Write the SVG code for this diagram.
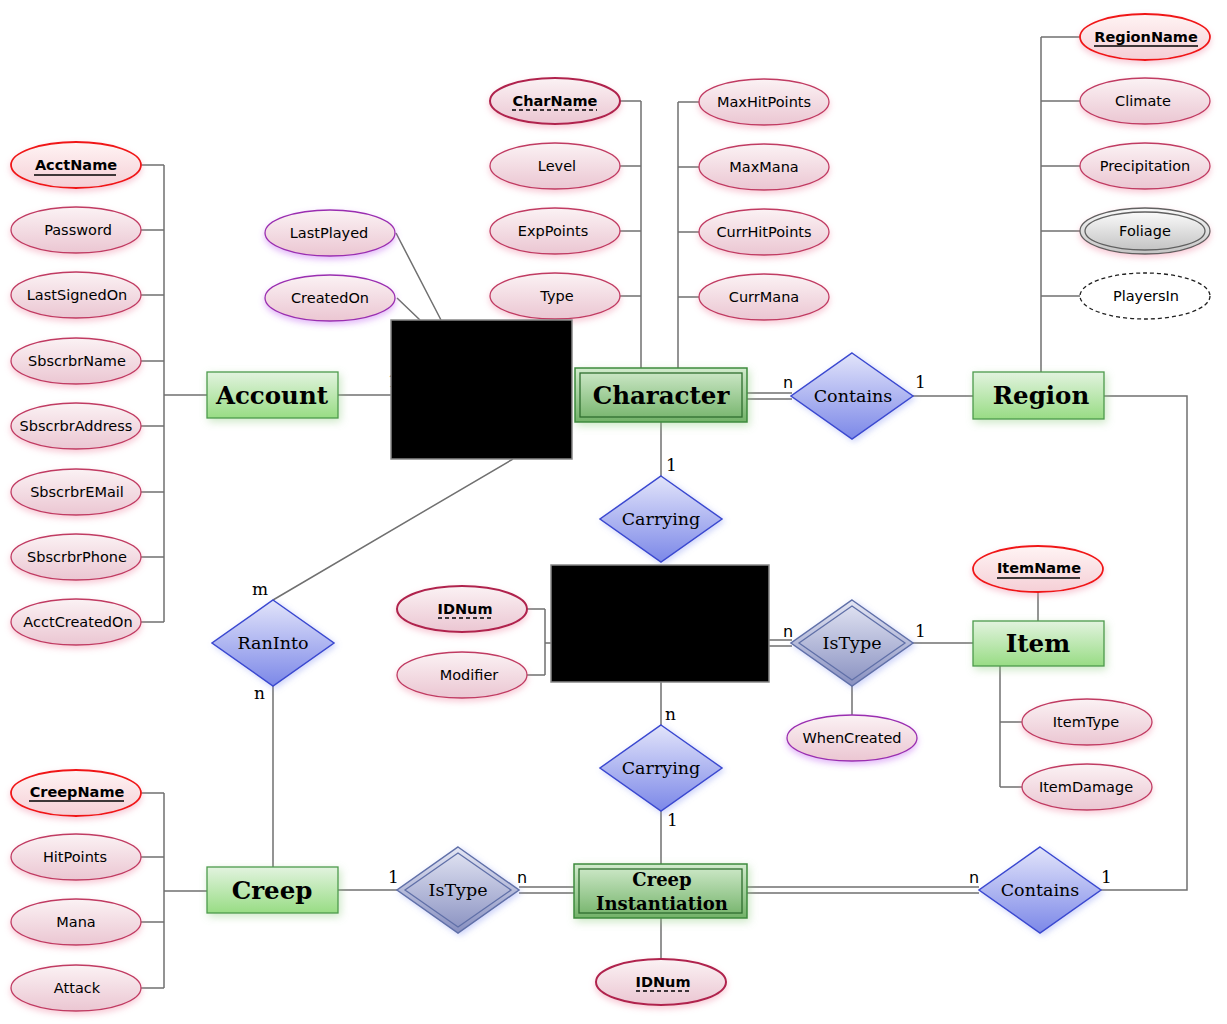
<svg xmlns="http://www.w3.org/2000/svg" width="1227" height="1024" viewBox="0 0 1227 1024">
<style>
.bg{fill:#fff}
.c{stroke:#707070;stroke-width:1.5;fill:none}
.attr{fill:url(#gAttr);stroke:#c03a62;stroke-width:1.3;filter:url(#shPink)}
.key{fill:url(#gKey);stroke:#f01818;stroke-width:1.8;filter:url(#shPink)}
.wkey{fill:url(#gAttr);stroke:#b0244e;stroke-width:2;filter:url(#shPink)}
.der{fill:url(#gAttr);stroke:#9a2eb0;stroke-width:1.3;filter:url(#shPurp)}
.mv{fill:url(#gGray);stroke:#606060;stroke-width:1.3}
.dv{fill:#fff;stroke:#202020;stroke-width:1.3;stroke-dasharray:4 3}
.at{font-family:"DejaVu Sans",sans-serif;font-size:14.5px;fill:#000;text-anchor:middle}
.atb{font-family:"DejaVu Sans",sans-serif;font-size:14.5px;font-weight:bold;fill:#000;text-anchor:middle}
.ent{fill:url(#gEnt);stroke:#4c9a4c;stroke-width:1.3;filter:url(#shGreen)}
.went{fill:url(#gWEnt);stroke:#3c8a3c;stroke-width:1.5;filter:url(#shGreen)}
.wentin{fill:none;stroke:#2e6e2e;stroke-width:1.3}
.et{font-family:"DejaVu Serif",serif;font-size:24.5px;font-weight:bold;fill:#000;text-anchor:middle}
.et2{font-family:"DejaVu Serif",serif;font-size:18px;font-weight:bold;fill:#000;text-anchor:middle}
.rel{fill:url(#gRel);stroke:#3a48d0;stroke-width:1.5;filter:url(#shBlue)}
.wrel{fill:url(#gWRel);stroke:#6070a8;stroke-width:1.5;filter:url(#shBlue)}
.wrelin{fill:none;stroke:#6070a8;stroke-width:1.3}
.rt{font-family:"DejaVu Serif",serif;font-size:17.5px;fill:#000;text-anchor:middle}
.lb{font-family:"DejaVu Sans",sans-serif;font-size:16px;fill:#000}
.lbs{font-family:"DejaVu Serif",serif;font-size:17px;fill:#000}
.ul{stroke:#000;stroke-width:1.3}
.dul{stroke:#000;stroke-width:1.3;stroke-dasharray:4 3}
.blk{fill:#000;stroke:#888;stroke-width:1.5}
</style>
<defs>
<linearGradient id="gAttr" x1="0" y1="0" x2="0" y2="1"><stop offset="0" stop-color="#fbf2f4"/><stop offset="1" stop-color="#ebc6d2"/></linearGradient>
<linearGradient id="gKey" x1="0" y1="0" x2="0" y2="1"><stop offset="0" stop-color="#fff4f4"/><stop offset="1" stop-color="#f5cfd6"/></linearGradient>
<linearGradient id="gGray" x1="0" y1="0" x2="0" y2="1"><stop offset="0" stop-color="#fafafa"/><stop offset="1" stop-color="#c4c4c4"/></linearGradient>
<linearGradient id="gEnt" x1="0" y1="0" x2="0" y2="1"><stop offset="0" stop-color="#e2f3df"/><stop offset="1" stop-color="#98dc84"/></linearGradient>
<linearGradient id="gWEnt" x1="0" y1="0" x2="0" y2="1"><stop offset="0" stop-color="#d2ebcd"/><stop offset="1" stop-color="#72b268"/></linearGradient>
<linearGradient id="gRel" x1="0" y1="0" x2="0" y2="1"><stop offset="0" stop-color="#e2e4fa"/><stop offset="1" stop-color="#7c88e8"/></linearGradient>
<linearGradient id="gWRel" x1="0" y1="0" x2="0" y2="1"><stop offset="0" stop-color="#e4e6f4"/><stop offset="1" stop-color="#8890c0"/></linearGradient>
<filter id="shPink" x="-20%" y="-30%" width="140%" height="170%"><feDropShadow dx="0" dy="3" stdDeviation="3" flood-color="#f08aa4" flood-opacity="0.45"/></filter>
<filter id="shPurp" x="-20%" y="-30%" width="140%" height="170%"><feDropShadow dx="0" dy="3" stdDeviation="3" flood-color="#c060f0" flood-opacity="0.45"/></filter>
<filter id="shGreen" x="-20%" y="-30%" width="140%" height="170%"><feDropShadow dx="2" dy="3" stdDeviation="4" flood-color="#8ccc7c" flood-opacity="0.45"/></filter>
<filter id="shBlue" x="-20%" y="-20%" width="140%" height="150%"><feDropShadow dx="2" dy="2" stdDeviation="3" flood-color="#8090f0" flood-opacity="0.4"/></filter>
</defs>
<rect class="bg" x="0" y="0" width="1227" height="1024"/>

<g id="connectors">
<path class="c" d="M141,165H164M141,230H164M141,295H164M141,361H164M141,426H164M141,492H164M141,557H164M141,622H164M164,165V622M164,395H207"/>
<path class="c" d="M338,395H391"/>
<path class="c" d="M396,233L441,320M397,298L420,320"/>
<path class="c" d="M620,101H641M620,166H641M620,231H641M620,296H641M641,101V368"/>
<path class="c" d="M699,102H678M699,167H678M699,232H678M699,297H678M678,102V368"/>
<path class="c" d="M747,393H792M747,399H792"/>
<path class="c" d="M913,396H973"/>
<path class="c" d="M1080,37H1041M1080,101H1041M1080,166H1041M1080,231H1041M1080,296H1041M1041,37V372"/>
<path class="c" d="M1104,396H1187V890H1101"/>
<path class="c" d="M661,422V476"/>
<path class="c" d="M527,609H545M527,675H545M545,609V675M545,643H551"/>
<path class="c" d="M769,640H792M769,646H792"/>
<path class="c" d="M913,643H973"/>
<path class="c" d="M1038,592V621"/>
<path class="c" d="M1000,666V787M1000,722H1022M1000,787H1022"/>
<path class="c" d="M852,686V715"/>
<path class="c" d="M661,682V725M661,811V864"/>
<path class="c" d="M661,918V959"/>
<path class="c" d="M141,793H164M141,857H164M141,922H164M141,988H164M164,793V988M164,891H207"/>
<path class="c" d="M338,890H397"/>
<path class="c" d="M519,887H574M519,893H574"/>
<path class="c" d="M747,887H979M747,893H979"/>
<path class="c" d="M273,600L513,459M273,686V867"/>
</g>

<g id="labels">
<text class="lbs" x="388" y="387">1</text>
<text class="lb" x="783" y="388">n</text>
<text class="lbs" x="915" y="388">1</text>
<text class="lbs" x="666" y="471">1</text>
<text class="lb" x="783" y="637">n</text>
<text class="lbs" x="915" y="637">1</text>
<text class="lbs" x="665" y="720">n</text>
<text class="lbs" x="667" y="826">1</text>
<text class="lbs" x="252" y="595">m</text>
<text class="lbs" x="254" y="699">n</text>
<text class="lbs" x="388" y="883">1</text>
<text class="lb" x="517" y="883">n</text>
<text class="lb" x="969" y="883">n</text>
<text class="lbs" x="1101" y="883">1</text>
</g>

<g id="attr-AcctName"><ellipse class="key" cx="76" cy="165" rx="65" ry="23"/><text class="atb" x="76" y="170">AcctName</text><line class="ul" x1="34" y1="175" x2="116" y2="175"/></g>
<g id="attr-Password"><ellipse class="attr" cx="76" cy="230" rx="65" ry="23"/><text class="at" x="78" y="235">Password</text></g>
<g id="attr-LastSignedOn"><ellipse class="attr" cx="76" cy="295" rx="65" ry="23"/><text class="at" x="77" y="300">LastSignedOn</text></g>
<g id="attr-SbscrbrName"><ellipse class="attr" cx="76" cy="361" rx="65" ry="23"/><text class="at" x="77" y="366">SbscrbrName</text></g>
<g id="attr-SbscrbrAddress"><ellipse class="attr" cx="76" cy="426" rx="65" ry="23"/><text class="at" x="76" y="431">SbscrbrAddress</text></g>
<g id="attr-SbscrbrEMail"><ellipse class="attr" cx="76" cy="492" rx="65" ry="23"/><text class="at" x="77" y="497">SbscrbrEMail</text></g>
<g id="attr-SbscrbrPhone"><ellipse class="attr" cx="76" cy="557" rx="65" ry="23"/><text class="at" x="77" y="562">SbscrbrPhone</text></g>
<g id="attr-AcctCreatedOn"><ellipse class="attr" cx="76" cy="622" rx="65" ry="23"/><text class="at" x="78" y="627">AcctCreatedOn</text></g>

<g id="ent-Account"><rect class="ent" x="207" y="372" width="131" height="46"/><text class="et" x="272" y="404">Account</text></g>

<g id="attr-LastPlayed"><ellipse class="der" cx="330" cy="233" rx="65" ry="23"/><text class="at" x="329" y="238">LastPlayed</text></g>
<g id="attr-CreatedOn"><ellipse class="der" cx="330" cy="298" rx="65" ry="23"/><text class="at" x="330" y="303">CreatedOn</text></g>

<g id="attr-CharName"><ellipse class="wkey" cx="555" cy="101" rx="65" ry="23"/><text class="atb" x="555" y="106">CharName</text><line class="dul" x1="512" y1="110" x2="597" y2="110"/></g>
<g id="attr-Level"><ellipse class="attr" cx="555" cy="166" rx="65" ry="23"/><text class="at" x="557" y="171">Level</text></g>
<g id="attr-ExpPoints"><ellipse class="attr" cx="555" cy="231" rx="65" ry="23"/><text class="at" x="553" y="236">ExpPoints</text></g>
<g id="attr-Type"><ellipse class="attr" cx="555" cy="296" rx="65" ry="23"/><text class="at" x="557" y="301">Type</text></g>
<g id="attr-MaxHitPoints"><ellipse class="attr" cx="764" cy="102" rx="65" ry="23"/><text class="at" x="764" y="107">MaxHitPoints</text></g>
<g id="attr-MaxMana"><ellipse class="attr" cx="764" cy="167" rx="65" ry="23"/><text class="at" x="764" y="172">MaxMana</text></g>
<g id="attr-CurrHitPoints"><ellipse class="attr" cx="764" cy="232" rx="65" ry="23"/><text class="at" x="764" y="237">CurrHitPoints</text></g>
<g id="attr-CurrMana"><ellipse class="attr" cx="764" cy="297" rx="65" ry="23"/><text class="at" x="764" y="302">CurrMana</text></g>

<g id="ent-Character"><rect class="went" x="575" y="368" width="172" height="54"/><rect class="wentin" x="580" y="373" width="162" height="44"/><text class="et" x="661" y="404">Character</text></g>

<g id="rel-Contains1"><polygon class="rel" points="852,353 913,396 852,439 791,396"/><text class="rt" x="853" y="402">Contains</text></g>

<g id="attr-RegionName"><ellipse class="key" cx="1145" cy="37" rx="65" ry="23"/><text class="atb" x="1146" y="42">RegionName</text><line class="ul" x1="1094" y1="46" x2="1198" y2="46"/></g>
<g id="attr-Climate"><ellipse class="attr" cx="1145" cy="101" rx="65" ry="23"/><text class="at" x="1143" y="106">Climate</text></g>
<g id="attr-Precipitation"><ellipse class="attr" cx="1145" cy="166" rx="65" ry="23"/><text class="at" x="1145" y="171">Precipitation</text></g>
<g id="attr-Foliage"><ellipse class="mv" cx="1145" cy="231" rx="65" ry="23" style="filter:url(#shPink)"/><ellipse class="mv" cx="1145" cy="231" rx="60" ry="19"/><text class="at" x="1145" y="236">Foliage</text></g>
<g id="attr-PlayersIn"><ellipse class="dv" cx="1145" cy="296" rx="65" ry="23"/><text class="at" x="1146" y="301">PlayersIn</text></g>
<g id="ent-Region"><rect class="ent" x="973" y="372" width="131" height="47"/><text class="et" x="1041" y="404">Region</text></g>

<g id="rel-Carrying1"><polygon class="rel" points="661,476 722,519 661,562 600,519"/><text class="rt" x="661" y="525">Carrying</text></g>

<g id="attr-IDNum1"><ellipse class="wkey" cx="462" cy="609" rx="65" ry="23"/><text class="atb" x="465" y="614">IDNum</text><line class="dul" x1="438" y1="618" x2="491" y2="618"/></g>
<g id="attr-Modifier"><ellipse class="attr" cx="462" cy="675" rx="65" ry="23"/><text class="at" x="469" y="680">Modifier</text></g>

<g id="rel-IsType1"><polygon class="wrel" points="852,600 913,643 852,686 791,643"/><polygon class="wrelin" points="852,606 905,643 852,680 799,643"/><text class="rt" x="852" y="649">IsType</text></g>
<g id="attr-WhenCreated"><ellipse class="der" cx="852" cy="738" rx="65" ry="23"/><text class="at" x="852" y="743">WhenCreated</text></g>

<g id="attr-ItemName"><ellipse class="key" cx="1038" cy="569" rx="65" ry="23"/><text class="atb" x="1039" y="573">ItemName</text><line class="ul" x1="997" y1="578" x2="1080" y2="578"/></g>
<g id="ent-Item"><rect class="ent" x="973" y="621" width="131" height="45"/><text class="et" x="1038" y="652">Item</text></g>
<g id="attr-ItemType"><ellipse class="attr" cx="1087" cy="722" rx="65" ry="23"/><text class="at" x="1086" y="727">ItemType</text></g>
<g id="attr-ItemDamage"><ellipse class="attr" cx="1087" cy="787" rx="65" ry="23"/><text class="at" x="1086" y="792">ItemDamage</text></g>

<g id="rel-Carrying2"><polygon class="rel" points="661,725 722,768 661,811 600,768"/><text class="rt" x="661" y="774">Carrying</text></g>

<g id="rel-RanInto"><polygon class="rel" points="273,600 334,643 273,686 212,643"/><text class="rt" x="273" y="649">RanInto</text></g>

<g id="attr-CreepName"><ellipse class="key" cx="76" cy="793" rx="65" ry="23"/><text class="atb" x="77" y="797">CreepName</text><line class="ul" x1="29" y1="801" x2="124" y2="801"/></g>
<g id="attr-HitPoints"><ellipse class="attr" cx="76" cy="857" rx="65" ry="23"/><text class="at" x="75" y="862">HitPoints</text></g>
<g id="attr-Mana"><ellipse class="attr" cx="76" cy="922" rx="65" ry="23"/><text class="at" x="76" y="927">Mana</text></g>
<g id="attr-Attack"><ellipse class="attr" cx="76" cy="988" rx="65" ry="23"/><text class="at" x="77" y="993">Attack</text></g>
<g id="ent-Creep"><rect class="ent" x="207" y="867" width="131" height="46"/><text class="et" x="272" y="899">Creep</text></g>

<g id="rel-IsType2"><polygon class="wrel" points="458,847 519,890 458,933 397,890"/><polygon class="wrelin" points="458,853 511,890 458,927 405,890"/><text class="rt" x="458" y="896">IsType</text></g>

<g id="ent-CreepInstantiation"><rect class="went" x="574" y="864" width="173" height="54"/><rect class="wentin" x="579" y="869" width="163" height="44"/><text class="et2" x="662" y="886">Creep</text><text class="et2" x="662" y="910">Instantiation</text></g>
<g id="attr-IDNum2"><ellipse class="wkey" cx="661" cy="982" rx="65" ry="23"/><text class="atb" x="663" y="987">IDNum</text><line class="dul" x1="636" y1="991" x2="689" y2="991"/></g>

<g id="rel-Contains2"><polygon class="rel" points="1040,847 1101,890 1040,933 979,890"/><text class="rt" x="1040" y="896">Contains</text></g>

<g id="redact1"><rect class="blk" x="391" y="320" width="181" height="139"/></g>
<g id="redact2"><rect class="blk" x="551" y="565" width="218" height="117"/></g>
</svg>
